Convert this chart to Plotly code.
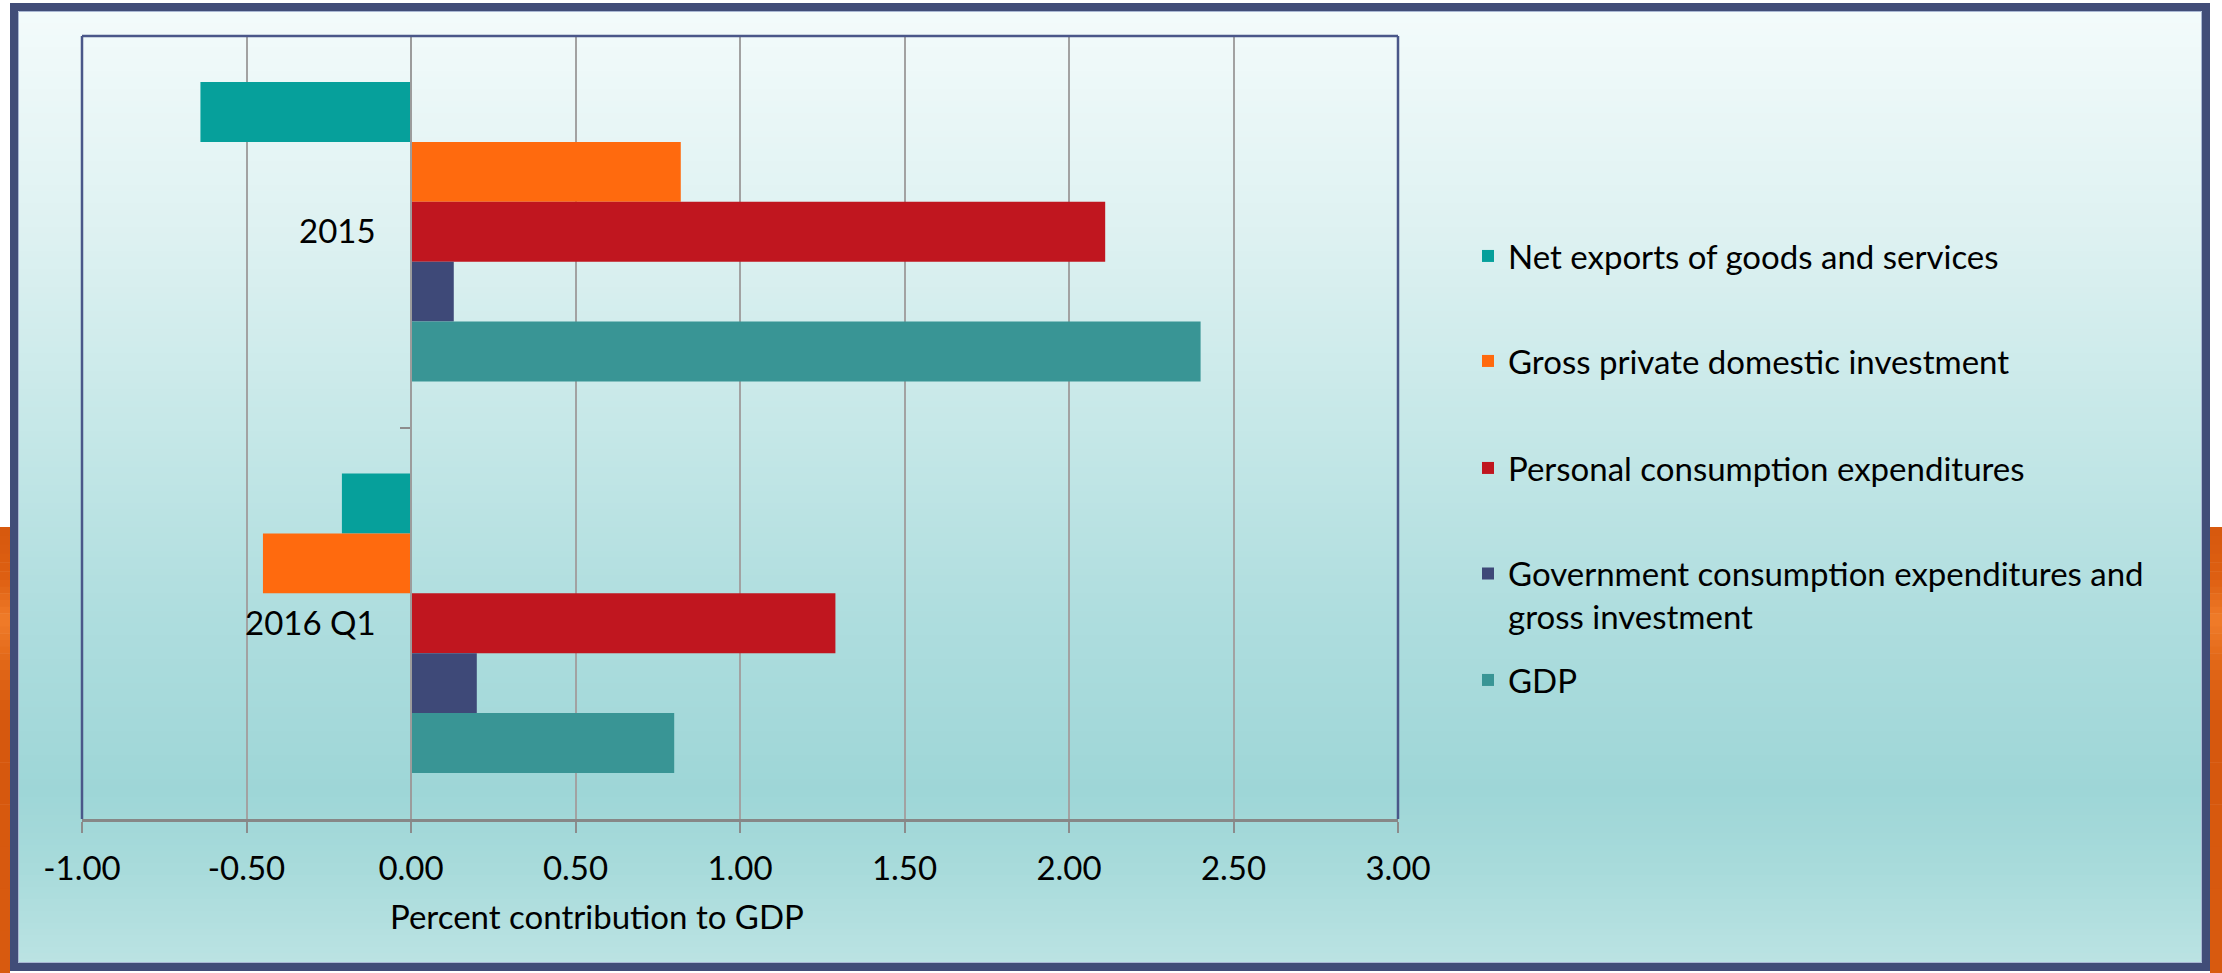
import plotly.graph_objects as go

# ---------------- data ----------------
categories = ["2015", "2016 Q1"]
series_names = [
    "Net exports of goods and services",
    "Gross private domestic investment",
    "Personal consumption expenditures",
    "Government consumption expenditures and<br>gross investment",
    "GDP",
]
net_exports = [-0.64, -0.21]
gross_private_investment = [0.82, -0.45]
personal_consumption = [2.11, 1.29]
government = [0.13, 0.20]
gdp = [2.40, 0.80]
series_values = [net_exports, gross_private_investment, personal_consumption, government, gdp]

x_tick_values = [-1.0, -0.5, 0.0, 0.5, 1.0, 1.5, 2.0, 2.5, 3.0]
x_tick_labels = ["-1.00", "-0.50", "0.00", "0.50", "1.00", "1.50", "2.00", "2.50", "3.00"]
x_axis_title = "Percent contribution to GDP"

# ---------------- styling ----------------
W, H = 2222, 973
L, R, T, B = 82, 1398, 36, 819
PW, PH = R - L, B - T
FONT = "Lato, 'Open Sans', sans-serif"
FS = 33

colors = ["#06A09B", "#FF6A0E", "#C0161F", "#3E4978", "#399595"]


def xp(px):
    return (px - L) / PW


def yp(py):
    return (B - py) / PH


def lerp(c1, c2, t):
    return tuple(round(a + (b - a) * t) for a, b in zip(c1, c2))


fig = go.Figure()

legend_ids = ["legend", "legend2", "legend3", "legend4", "legend5"]
for name, vals, col, lid in zip(series_names, series_values, colors, legend_ids):
    fig.add_trace(go.Bar(
        y=categories, x=vals, name=name, orientation="h",
        marker=dict(color=col, line=dict(width=0)),
        legend=lid, showlegend=True,
    ))

# ---------------- background gradient & decorations ----------------
shapes = []
# orange side stripes (outside frame)
orange_stops = [(527, (214, 88, 14)), (580, (222, 96, 18)), (620, (240, 124, 42)),
                (660, (226, 104, 24)), (720, (214, 88, 14)), (973, (216, 90, 15))]
for side in [(0, 10), (2210, 2222)]:
    for i in range(len(orange_stops) - 1):
        (ya, ca), (yb, cb) = orange_stops[i], orange_stops[i + 1]
        n = 6
        for k in range(n):
            y0 = ya + (yb - ya) * k / n
            y1 = ya + (yb - ya) * (k + 1) / n + 0.5
            c = lerp(ca, cb, (k + 0.5) / n)
            shapes.append(dict(type="rect", xref="paper", yref="paper", layer="below",
                               x0=xp(side[0]), x1=xp(side[1]), y0=yp(y1), y1=yp(y0),
                               fillcolor="rgb(%d,%d,%d)" % c, line=dict(width=0)))

# inner vertical gradient
grad_stops = [(11, (243, 251, 251)), (240, (221, 241, 241)), (440, (196, 231, 231)),
              (620, (174, 221, 222)), (790, (158, 214, 215)), (870, (168, 219, 219)),
              (963, (187, 227, 227))]
step = 6
py = 11
while py < 963:
    py2 = min(py + step, 963)
    mid = (py + py2) / 2
    for i in range(len(grad_stops) - 1):
        if grad_stops[i][0] <= mid <= grad_stops[i + 1][0]:
            t = (mid - grad_stops[i][0]) / (grad_stops[i + 1][0] - grad_stops[i][0])
            c = lerp(grad_stops[i][1], grad_stops[i + 1][1], t)
            break
    shapes.append(dict(type="rect", xref="paper", yref="paper", layer="below",
                       x0=xp(18), x1=xp(2202), y0=yp(py2 + 0.6), y1=yp(py),
                       fillcolor="rgb(%d,%d,%d)" % c, line=dict(width=0)))
    py = py2

# outer frame
shapes.append(dict(type="rect", xref="paper", yref="paper", layer="above",
                   x0=xp(14), x1=xp(2206), y0=yp(967), y1=yp(7),
                   line=dict(color="#414D78", width=8), fillcolor="rgba(0,0,0,0)"))
shapes.append(dict(type="rect", xref="paper", yref="paper", layer="above",
                   x0=xp(18.5), x1=xp(2201.5), y0=yp(962.5), y1=yp(11.5),
                   line=dict(color="#A9B7D3", width=1), fillcolor="rgba(0,0,0,0)"))
# plot area border (top, left, right)
border_col = "#4A5789"
shapes.append(dict(type="line", xref="paper", yref="paper", layer="above",
                   x0=0, x1=1, y0=1, y1=1, line=dict(color=border_col, width=2.5)))
shapes.append(dict(type="line", xref="paper", yref="paper", layer="above",
                   x0=0, x1=0, y0=0, y1=1, line=dict(color=border_col, width=2.5)))
shapes.append(dict(type="line", xref="paper", yref="paper", layer="above",
                   x0=1, x1=1, y0=0, y1=1, line=dict(color=border_col, width=2.5)))

# ---------------- legends (one per series, placed like the original) ----------------
leg_x = 1468 / W
leg_centers = [256, 361, 468, 595, 680]
legend_layouts = {}
for lid, cy in zip(legend_ids, leg_centers):
    legend_layouts[lid] = dict(
        xref="container", yref="container", x=leg_x, xanchor="left",
        y=1 - cy / H, yanchor="middle", bgcolor="rgba(0,0,0,0)", borderwidth=0,
        font=dict(family=FONT, size=FS, color="#000000"),
        valign="top", visible=True,
    )

zero_pos = (0 - (-1.0)) / (3.0 - (-1.0))

fig.update_layout(
    width=W, height=H,
    margin=dict(l=L, r=W - R, t=T, b=H - B, pad=0),
    paper_bgcolor="#FFFFFF", plot_bgcolor="rgba(0,0,0,0)",
    showlegend=True,
    barmode="group", bargap=0.235, bargroupgap=0,
    font=dict(family=FONT, size=FS, color="#000000"),
    shapes=shapes,
    xaxis=dict(
        range=[-1.0, 3.0], tickmode="array", tickvals=x_tick_values, ticktext=x_tick_labels,
        showgrid=True, gridcolor="#A2A2A2", gridwidth=1.5,
        zeroline=True, zerolinecolor="#9C9C9C", zerolinewidth=1.5,
        showline=True, linecolor="#878787", linewidth=2.5, mirror=False,
        ticks="outside", ticklen=11, tickwidth=1.5, tickcolor="#8C8C8C",
        tickfont=dict(family=FONT, size=FS, color="#000000"),
        ticklabelstandoff=8, fixedrange=True,
    ),
    yaxis=dict(
        type="category", categoryorder="array", categoryarray=categories,
        autorange="reversed", anchor="free", position=zero_pos,
        showgrid=False, zeroline=False,
        showline=True, linecolor="#9C9C9C", linewidth=1.5,
        ticks="outside", tickson="boundaries", ticklen=10, tickwidth=1.5, tickcolor="#8C8C8C",
        tickfont=dict(family=FONT, size=FS, color="#000000"),
        ticklabelstandoff=28, fixedrange=True,
    ),
    annotations=[dict(
        text=x_axis_title, xref="paper", yref="paper", x=xp(597), y=yp(916),
        xanchor="center", yanchor="middle", showarrow=False,
        font=dict(family=FONT, size=FS, color="#000000"),
    )],
    **legend_layouts,
)

fig.write_html("out.html")
